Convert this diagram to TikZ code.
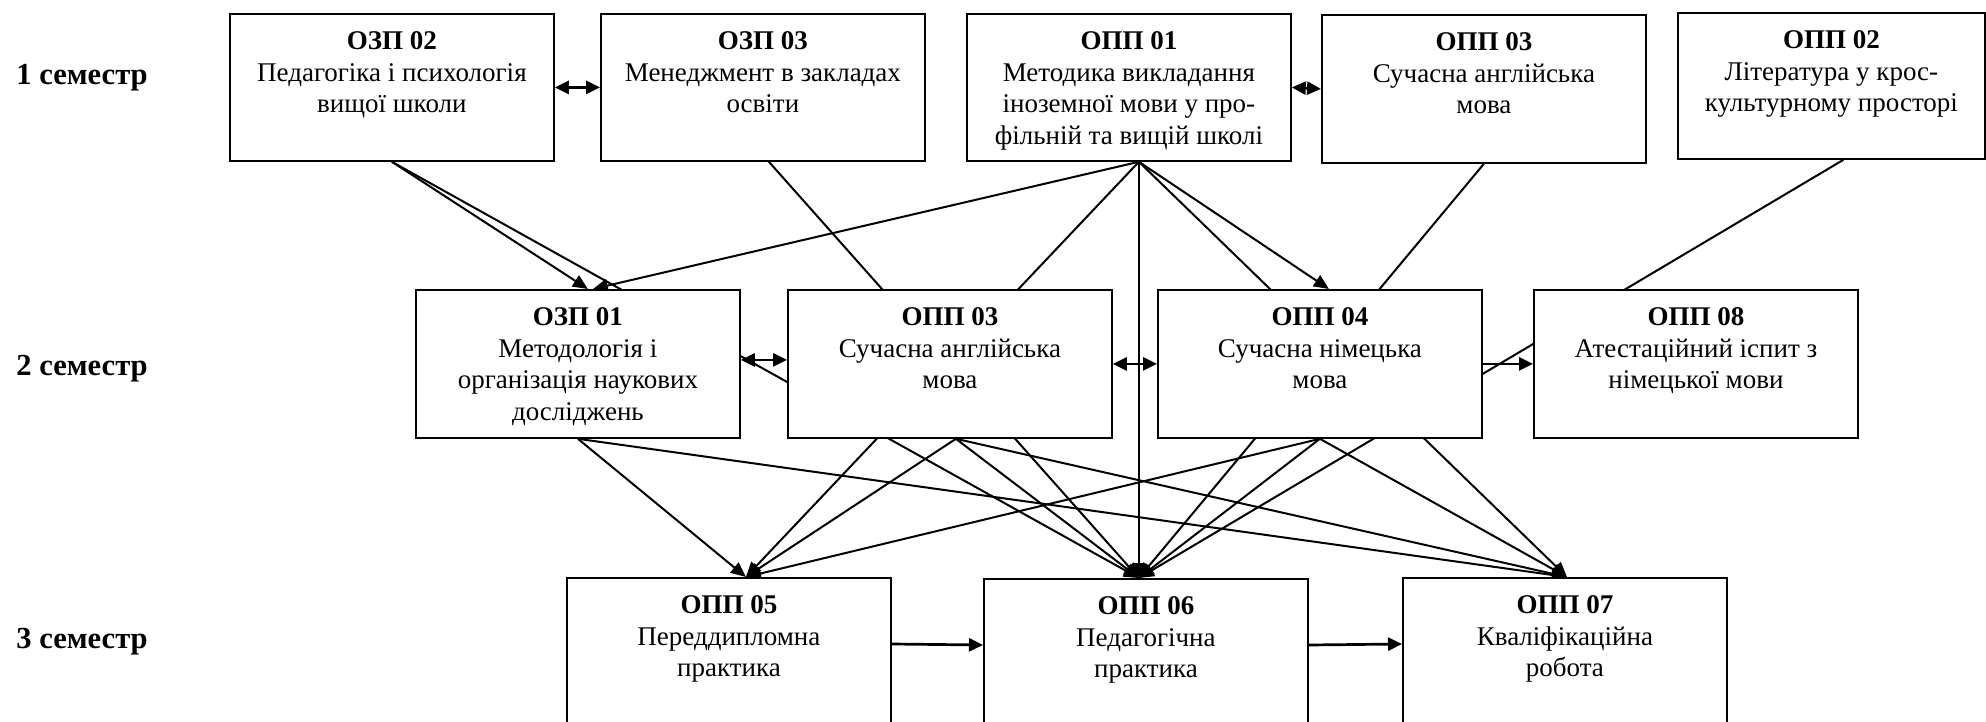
\documentclass[tikz,border=0pt]{standalone}
\usepackage{fontspec}
\setmainfont{Liberation Serif}
\usetikzlibrary{arrows.meta,calc}
\pgfdeclarelayer{bg}
\pgfsetlayers{bg,main}
\newcommand{\bxtext}[4]{\parbox[c][#1][t]{#2}{\centering\rule{0pt}{18pt}\textbf{#3}\\#4}}
\tikzset{
  cbox/.style={draw, line width=0.9pt, fill=white, inner sep=0pt, rectangle, anchor=north west},
  link/.style={line width=1pt},
  arr/.style={link, -{Triangle[length=7.5pt,width=6.5pt]}},
  harr/.style={line width=1.35pt, -{Triangle[length=7pt,width=6.5pt]}},
  darr/.style={line width=1.35pt, {Triangle[length=7pt,width=6.5pt]}-{Triangle[length=7pt,width=6.5pt]}},
  sem/.style={font=\fontsize{15.3}{18}\selectfont\bfseries, anchor=base west, inner sep=0pt}
}
\begin{document}
\begin{tikzpicture}[x=0.5pt,y=-0.5pt, every node/.style={font=\fontsize{13.5}{15.75}\selectfont}]
\useasboundingbox (0,0) rectangle (1986,722);
\clip (0,0) rectangle (1986,722);

% semester labels
\node[sem] (sem1) at (16,85) {1 семестр};
\node[sem] (sem2) at (16,375) {2 семестр};
\node[sem] (sem3) at (16,648) {3 семестр};

% row 1
\node[cbox] (ozp02) at (229,13) {\bxtext{73.5pt}{162pt}{ОЗП 02}{Педагогіка і психологія\\вищої школи}};
\node[cbox] (ozp03) at (600,13) {\bxtext{73.5pt}{162pt}{ОЗП 03}{Менеджмент в закладах\\освіти}};
\node[cbox] (opp01) at (966,13) {\bxtext{73.5pt}{162pt}{ОПП 01}{Методика викладання\\іноземної мови у про-\\фільній та вищій школі}};
\node[cbox] (opp03a) at (1321,14) {\bxtext{74pt}{162pt}{ОПП 03}{Сучасна англійська\\мова}};
\node[cbox] (opp02) at (1677,12) {\bxtext{73pt}{153.5pt}{ОПП 02}{Література у крос-\\культурному просторі}};

% row 2
\node[cbox] (ozp01) at (415,289) {\bxtext{74pt}{162pt}{ОЗП 01}{Методологія і\\організація наукових\\досліджень}};
\node[cbox] (opp03b) at (787,289) {\bxtext{74pt}{162pt}{ОПП 03}{Сучасна англійська\\мова}};
\node[cbox] (opp04) at (1157,289) {\bxtext{74pt}{162pt}{ОПП 04}{Сучасна німецька\\мова}};
\node[cbox] (opp08) at (1533,289) {\bxtext{74pt}{162pt}{ОПП 08}{Атестаційний іспит з\\німецької мови}};

% row 3
\node[cbox] (opp05) at (566,577) {\bxtext{110pt}{162pt}{ОПП 05}{Переддипломна\\практика}};
\node[cbox] (opp06) at (983,578) {\bxtext{110pt}{162pt}{ОПП 06}{Педагогічна\\практика}};
\node[cbox] (opp07) at (1402,577) {\bxtext{110pt}{162pt}{ОПП 07}{Кваліфікаційна\\робота}};

% connection points
\coordinate (s01) at ($(opp01.south)+(10,0)$);
\coordinate (sz3) at ($(ozp03.south)+(6,0)$);
\coordinate (s02) at ($(opp02.south)+(12,0)$);
\coordinate (s3b) at ($(opp03b.south)+(6,0)$);
\coordinate (t05) at ($(opp05.north)+(17,0)$);
\coordinate (t06) at ($(opp06.north)+(-7,0)$);
\coordinate (t07) at ($(opp07.north)+(2,0)$);
\coordinate (tz1a) at ($(ozp01.north)+(10,0)$);
\coordinate (tz1b) at ($(ozp01.north)+(15,0)$);
\coordinate (t04) at ($(opp04.north)+(9,0)$);

\begin{pgfonlayer}{bg}
% from row 1
\draw[arr] (ozp02.south) -- (tz1a);
\draw[arr] (ozp02.south) -- (t06);
\draw[arr] (sz3) -- (t06);
\draw[arr] (s01) -- (tz1b);
\draw[arr] (s01) -- (t05);
\draw[arr] (s01) -- (t06);
\draw[arr] (s01) -- (t04);
\draw[arr] (s01) -- (t07);
\draw[arr] (opp03a.south) -- (t06);
\draw[arr] (s02) -- (t06);
% from row 2
\draw[arr] (ozp01.south) -- (t05);
\draw[arr] (ozp01.south) -- (t07);
\draw[arr] (s3b) -- (t05);
\draw[arr] (s3b) -- (t06);
\draw[arr] (s3b) -- (t07);
\draw[arr] (opp04.south) -- (t05);
\draw[arr] (opp04.south) -- (t06);
\draw[arr] (opp04.south) -- (t07);
% horizontal links
\draw[darr] (ozp02.east) -- (ozp03.west);
\draw[darr] (opp01.east) -- (opp03a.west);
\draw[darr] ([yshift=2pt]ozp01.east) -- ([yshift=2pt]opp03b.west);
\draw[darr] (opp03b.east) -- (opp04.west);
\draw[harr] (opp04.east) -- (opp08.west);
\draw[harr] ([yshift=-33.5pt]opp05.north east) -- ([yshift=-33.5pt]opp06.north west);
\draw[harr] ([yshift=-33.5pt]opp06.north east) -- ([yshift=-33.5pt]opp07.north west);
\end{pgfonlayer}
\end{tikzpicture}
\end{document}
